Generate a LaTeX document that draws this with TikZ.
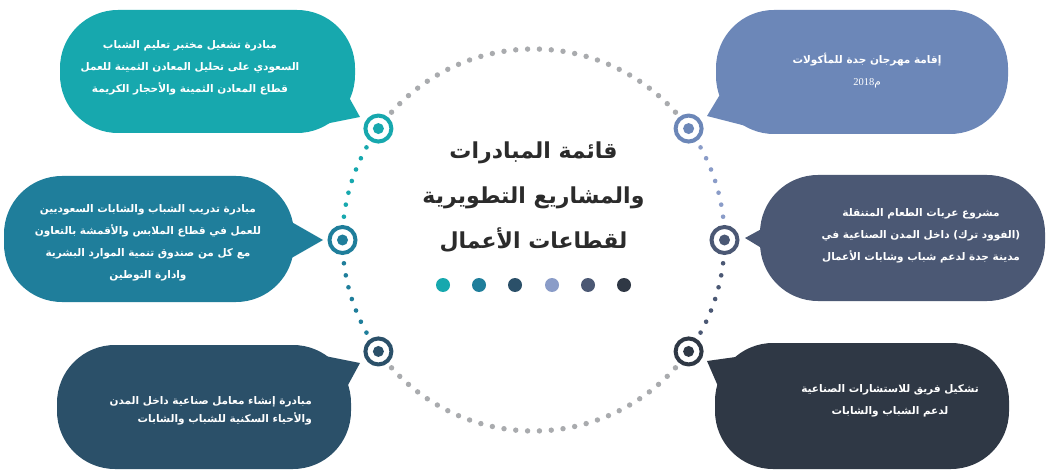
\documentclass[tikz,border=0pt]{standalone}
\usepackage{fontspec}
\TeXXeTstate=1
\newfontfamily\arabicfont[Script=Arabic]{DejaVu Sans}
\newfontfamily\numfont{Liberation Serif}
\usetikzlibrary{calc}
\newcommand\arline[1]{\beginR #1\endR}
\definecolor{cTL}{HTML}{17A8AE}
\definecolor{cML}{HTML}{1F7E9B}
\definecolor{cBL}{HTML}{2B5069}
\definecolor{cTR}{HTML}{6C87B8}
\definecolor{cMR}{HTML}{4B5874}
\definecolor{cBR}{HTML}{2F3845}
\definecolor{cTRd}{HTML}{8A9CC8}
\definecolor{cgray}{HTML}{A9ABAE}
\definecolor{ctitle}{HTML}{2B2B2B}
\tikzset{
  bubble/.style={fill=#1, rounded corners=58pt, inner sep=0pt},
  btext/.style={text=white, align=center, inner sep=0pt, font=\arabicfont\bfseries\fontsize{10.5}{22}\selectfont},
  ring/.style={circle, draw=#1, fill=white, line width=4pt, minimum size=26pt, inner sep=0pt,
    path picture={\fill[#1] (path picture bounding box.center) circle (5.5pt);}},
  cdot/.style={circle, fill=#1, minimum size=14pt, inner sep=0pt},
}
\begin{document}
\begin{tikzpicture}[x=1pt,y=-1pt]
\useasboundingbox (0,0) rectangle (1052,473);
\fill[white] (0,0) rectangle (1052,473);
\coordinate (C) at (533.5,240);
% dotted circle
\foreach \i in {0,...,27} {
  \fill[cgray] ($(C)+({42+\i*96/27}:191pt)$) circle (2.7pt);
  \fill[cgray] ($(C)+({222+\i*96/27}:191pt)$) circle (2.7pt);
}
\foreach \i in {0,...,6} {
  \fill[cTL] ($(C)+({151+\i*22/6}:191pt)$) circle (2.3pt);
  \fill[cML] ($(C)+({187+\i*22/6}:191pt)$) circle (2.3pt);
  \fill[cTRd] ($(C)+({29-\i*22/6}:191pt)$) circle (2.3pt);
  \fill[cMR] ($(C)+({-7-\i*22/6}:191pt)$) circle (2.3pt);
}
% bubbles
\node[bubble=cTL, minimum width=295pt, minimum height=123pt] (bTL) at (207.5,71.5) {};
\node[bubble=cTR, minimum width=292pt, minimum height=124pt] (bTR) at (862,72) {};
\node[bubble=cML, minimum width=290pt, minimum height=126pt] (bML) at (149,239) {};
\node[bubble=cMR, minimum width=285pt, minimum height=126pt] (bMR) at (902.5,238) {};
\node[bubble=cBL, minimum width=294pt, minimum height=124pt] (bBL) at (204,407) {};
\node[bubble=cBR, minimum width=294pt, minimum height=126pt] (bBR) at (862,406) {};
% rings
\node[ring=cTL] (rTL) at ($(C)+(144.3:191pt)$) {};
\node[ring=cML] (rML) at ($(C)+(180:191pt)$) {};
\node[ring=cBL] (rBL) at ($(C)+(215.7:191pt)$) {};
\node[ring=cTR] (rTR) at ($(C)+(35.7:191pt)$) {};
\node[ring=cMR] (rMR) at ($(C)+(0:191pt)$) {};
\node[ring=cBR] (rBR) at ($(C)+(-35.7:191pt)$) {};
% tails
\coordinate (tTL) at (360,117);
\coordinate (tTR) at (707,116);
\coordinate (tML) at (323,240);
\coordinate (tMR) at (745,238);
\coordinate (tBL) at (360,363);
\coordinate (tBR) at (707,361);
\fill[cTL] (336,74) -- (tTL) -- (310,127) -- cycle;
\fill[cTR] (730,78) -- (tTR) -- (750,127) -- cycle;
\fill[cML] (288,220) -- (tML) -- (288,260) -- cycle;
\fill[cMR] (778,220) -- (tMR) -- (778,258) -- cycle;
\fill[cBL] (310,353) -- (tBL) -- (342,396) -- cycle;
\fill[cBR] (750,355) -- (tBR) -- (724,400) -- cycle;
% texts
\node[btext] (xTL) at (190,67.5) {\arline{مبادرة تشغيل مختبر تعليم الشباب}\\
  \arline{السعودي على تحليل المعادن الثمينة للعمل}\\
  \arline{قطاع المعادن الثمينة والأحجار الكريمة}};
\node[btext] (xTR) at (867,71) {\arline{إقامة مهرجان جدة للمأكولات}\\
  {\mdseries\beginR م\beginL{\numfont 2018}\endL\endR}};
\node[btext] (xML) at (148,242.5) {\arline{مبادرة تدريب الشباب والشابات السعوديين}\\
  \arline{للعمل في قطاع الملابس والأقمشة بالتعاون}\\
  \arline{مع كل من صندوق تنمية الموارد البشرية}\\
  \arline{وادارة التوطين}};
\node[btext] (xMR) at (921,235.5) {\arline{مشروع عربات الطعام المتنقلة}\\
  \arline{(الفوود ترك) داخل المدن الصناعية في}\\
  \arline{مدينة جدة لدعم شباب وشابات الأعمال}};
\node[btext, align=right, anchor=east, font=\arabicfont\bfseries\fontsize{10.5}{18}\selectfont] (xBL) at (312,411) {\arline{مبادرة إنشاء معامل صناعية داخل المدن}\\
  \arline{والأحياء السكنية للشباب والشابات}};
\node[btext] (xBR) at (890,401) {\arline{تشكيل فريق للاستشارات الصناعية}\\
  \arline{لدعم الشباب والشابات}};
% title
\node[text=ctitle, align=center, inner sep=0pt, font=\arabicfont\bfseries\fontsize{22}{45}\selectfont] (title) at (533.5,197)
  {\arline{قائمة المبادرات}\\ \arline{والمشاريع التطويرية}\\ \arline{لقطاعات الأعمال}};
% legend dots
\node[cdot=cTL] (d1) at (443,285) {};
\node[cdot=cML] (d2) at (479,285) {};
\node[cdot=cBL] (d3) at (515,285) {};
\node[cdot=cTRd] (d4) at (552,285) {};
\node[cdot=cMR] (d5) at (588,285) {};
\node[cdot=cBR] (d6) at (624,285) {};
\end{tikzpicture}
\end{document}
